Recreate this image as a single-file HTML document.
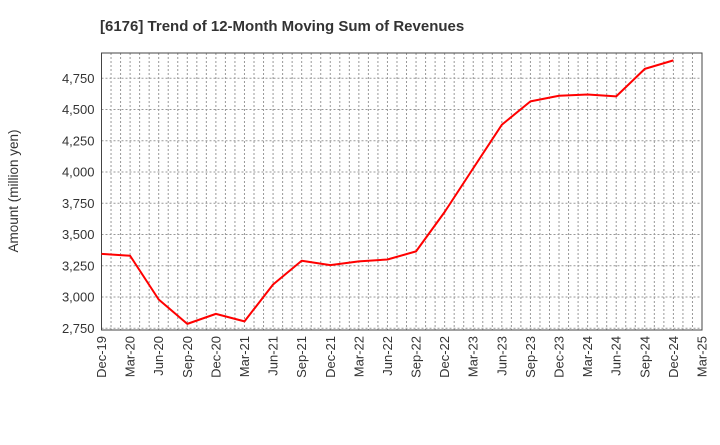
<!DOCTYPE html>
<html><head><meta charset="utf-8"><style>
body{margin:0;background:#fff;font-family:"Liberation Sans",sans-serif}
</style></head><body>
<svg id="c" width="720" height="440" xmlns="http://www.w3.org/2000/svg">
<text x="100" y="31" font-size="15" font-weight="bold" fill="#333">[6176]  Trend of 12-Month Moving Sum of Revenues</text>
<text transform="translate(18,191) rotate(-90)" text-anchor="middle" font-size="13.5" fill="#333">Amount (million yen)</text>
<g id="grid"></g><g id="axes"></g>
</svg>
<script>
const categories=["Dec-19","Mar-20","Jun-20","Sep-20","Dec-20","Mar-21","Jun-21","Sep-21","Dec-21","Mar-22","Jun-22","Sep-22","Dec-22","Mar-23","Jun-23","Sep-23","Dec-23","Mar-24","Jun-24","Sep-24","Dec-24","Mar-25"];
const revenues=[3345,3330,2980,2785,2865,2805,3100,3290,3255,3285,3300,3365,3680,4030,4378,4565,4610,4620,4605,4825,4893];
const yTicks=[2750,3000,3250,3500,3750,4000,4250,4500,4750];
const L=101.5,R=702,T=53,B=330,yMin=2736,yMax=4952;
const NS="http://www.w3.org/2000/svg";
const svg=document.getElementById('c'),grid=document.getElementById('grid'),axes=document.getElementById('axes');
const xs=i=>L+(R-L)*i/(categories.length-1);
const ys=v=>B-(B-T)*(v-yMin)/(yMax-yMin);
function mk(tag,at,parent){const e=document.createElementNS(NS,tag);for(const k in at)e.setAttribute(k,at[k]);parent.appendChild(e);return e;}
for(let m=1;m<(categories.length-1)*3;m++){const x=L+(R-L)*m/((categories.length-1)*3);
const g=mk('line',{x1:x,x2:x,y1:T,y2:B,stroke:'#999','stroke-width':1,'stroke-dasharray':'2,2'},grid);

}
yTicks.forEach(v=>{const y=ys(v);
const g=mk('line',{x1:L,x2:R,y1:y,y2:y,stroke:'#999','stroke-width':1,'stroke-dasharray':'2,2'},grid);


const t=mk('text',{x:L-7,y:y+4.5,'text-anchor':'end','font-size':13,fill:'#333'},axes);t.textContent=v.toLocaleString('en-US');

});
categories.forEach((c,i)=>{const x=xs(i);
const t=mk('text',{transform:`translate(${x+4.5},${B+6}) rotate(-90)`,'text-anchor':'end','font-size':13,fill:'#333'},axes);t.textContent=c;

});
const fr=mk('rect',{x:L,y:T,width:R-L,height:B-T,fill:'none',stroke:'#444','stroke-width':1},axes);


const pl=mk('polyline',{points:revenues.map((v,i)=>xs(i)+','+ys(v)).join(' '),fill:'none',stroke:'#f00','stroke-width':2,'stroke-linejoin':'round'},svg);


</script>
</body></html>
